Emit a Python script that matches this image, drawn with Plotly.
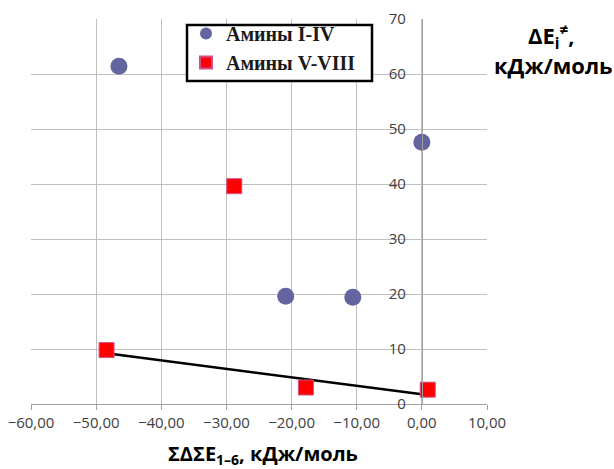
import numpy as np
import plotly.graph_objects as go

# Data
amines_1_4_x = [-46.5, 0.0, -20.9, -10.6]
amines_1_4_y = [61.4, 47.6, 19.6, 19.4]
amines_5_8_x = [-48.4, -28.8, -17.8, 0.9]
amines_5_8_y = [9.8, 39.6, 3.0, 2.6]
trend_idx = [0, 2, 3]  # points used for the linear trend line
x_ticks = [-60, -50, -40, -30, -20, -10, 0, 10]
y_ticks = [0, 10, 20, 30, 40, 50, 60, 70]

tx = np.array([amines_5_8_x[i] for i in trend_idx])
ty = np.array([amines_5_8_y[i] for i in trend_idx])
k, b = np.polyfit(tx, ty, 1)
line_x = [tx.min(), tx.max()]
line_y = [k * v + b for v in line_x]

W, H = 614, 469
ml, mr, mt, mb = 31, 127, 19, 65
plot_w = W - ml - mr
plot_h = H - mt - mb


def px(x):
    return (x - ml) / plot_w


def py(y):
    return 1 - (y - mt) / plot_h


fig = go.Figure()
fig.add_trace(go.Scatter(x=line_x, y=line_y, mode="lines",
                         line=dict(color="black", width=2.5),
                         showlegend=False, hoverinfo="skip"))
fig.add_trace(go.Scatter(x=amines_1_4_x, y=amines_1_4_y, mode="markers",
                         name="Амины I-IV",
                         marker=dict(symbol="circle", size=17, color="#6464a0",
                                     line=dict(width=0))))
fig.add_trace(go.Scatter(x=amines_5_8_x, y=amines_5_8_y, mode="markers",
                         name="Амины V-VIII",
                         marker=dict(symbol="square", size=15, color="#ff0000",
                                     line=dict(width=1, color="#d0508a"))))

# y-axis crosses at x = 0
ypos = (0 - (-60)) / 70.0

fig.update_layout(
    width=W, height=H,
    margin=dict(l=ml, r=mr, t=mt, b=mb, autoexpand=False),
    paper_bgcolor="white", plot_bgcolor="white",
    separators=", ",
    font=dict(family="Open Sans, DejaVu Sans, sans-serif", size=15, color="#404040"),
    xaxis=dict(range=[-60, 10], tickvals=x_ticks, tickformat=".2f",
               showgrid=True, gridcolor="#c0c0c0", gridwidth=1,
               zeroline=False, showline=True, linecolor="#a0a0a0",
               ticks="outside", ticklen=5, tickcolor="#a0a0a0",
               tickfont=dict(size=15, color="#404040"),
               automargin=False, domain=[0, 1]),
    yaxis=dict(range=[0, 70], tickvals=y_ticks,
               showgrid=True, gridcolor="#c0c0c0", gridwidth=1,
               zeroline=False, showline=True, linecolor="#a0a0a0",
               ticks="", ticklabelstandoff=13,
               tickfont=dict(size=15, color="#404040"),
               automargin=False, anchor="free", position=ypos),
    legend=dict(x=px(186), y=py(14),
                xanchor="left", yanchor="top",
                bgcolor="rgba(0,0,0,0)", borderwidth=0,
                font=dict(family="Liberation Serif, Times New Roman, serif",
                          size=20, color="#1a1a1a", weight="bold"),
                itemsizing="constant"),
    showlegend=True,
)

# legend frame
fig.add_shape(type="rect", xref="paper", yref="paper",
              x0=px(187), x1=px(372), y0=py(81), y1=py(25),
              line=dict(color="black", width=2.5), fillcolor="white", layer="above")

title_font = dict(family="Open Sans, DejaVu Sans, sans-serif", size=22, color="black")
fig.add_annotation(xref="paper", yref="paper", x=px(551), y=py(36),
                   xanchor="center", yanchor="middle", showarrow=False,
                   text="<b>ΔE<sub>i</sub><sup>≠</sup>,</b>", font=title_font)
fig.add_annotation(xref="paper", yref="paper", x=px(553), y=py(65),
                   xanchor="center", yanchor="middle", showarrow=False,
                   text="<b>кДж/моль</b>", font=title_font)
fig.add_annotation(xref="paper", yref="paper", x=px(263), y=py(454),
                   xanchor="center", yanchor="middle", showarrow=False,
                   text="<b>ΣΔΣE<sub>1–6</sub>, кДж/моль</b>",
                   font=dict(family="Open Sans, DejaVu Sans, sans-serif", size=20, color="black"))

fig.write_html("out.html", config={"displayModeBar": False},
               post_script="document.body.style.margin='0';document.body.style.overflow='hidden';")
